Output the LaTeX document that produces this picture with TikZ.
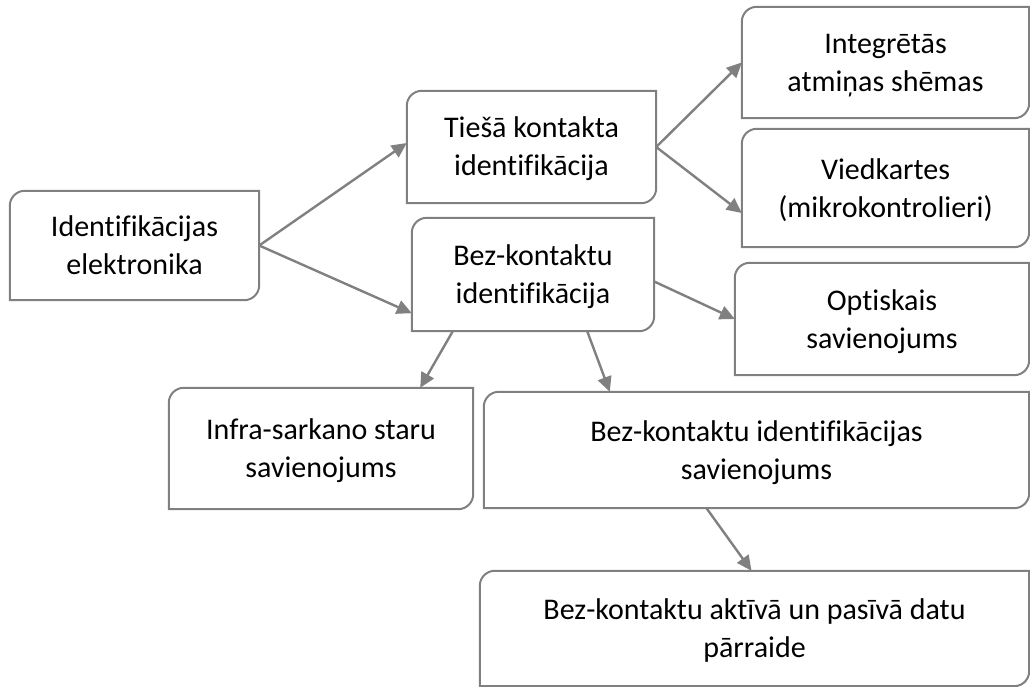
\documentclass[tikz,border=0pt]{standalone}
\usepackage{fontspec}
\setmainfont{Carlito}[Ligatures={NoCommon,NoRequired,NoContextual,TeX}]
\usetikzlibrary{arrows.meta}
\definecolor{linegray}{RGB}{128,128,128}
\newcommand\lnstrut{\rule[-7pt]{0pt}{34pt}}
\tikzset{
  boxnode/.style={draw=none, inner sep=0pt, align=center, font=\fontsize{30}{38}\selectfont},
  boxline/.style={draw=linegray, line width=2pt},
  conn/.style={draw=linegray, line width=2.4pt, -{Triangle[length=15pt,width=14pt]}, shorten >=0pt}
}
\begin{document}
\begin{tikzpicture}[x=1pt,y=-1pt]
\useasboundingbox (0,0) rectangle (1030,687);
\clip (0,0) rectangle (1030,687);
\node[boxnode, minimum width=249pt, minimum height=109pt] (a) at (134.5,245.5) {\lnstrut Identifikācijas\\\lnstrut elektronika};
\node[boxnode, minimum width=249pt, minimum height=112pt] (b) at (531.5,147) {\lnstrut Tiešā kontakta\\\lnstrut identifikācija};
\node[boxnode, minimum width=242pt, minimum height=113pt] (c) at (533,274.5) {\lnstrut Bez-kontaktu\\\lnstrut identifikācija};
\node[boxnode, minimum width=287pt, minimum height=111pt] (d) at (885.5,62.5) {\lnstrut Integrētās\\\lnstrut atmiņas shēmas};
\node[boxnode, minimum width=287pt, minimum height=118pt] (e) at (885.5,188) {\lnstrut Viedkartes\\\lnstrut (mikrokontrolieri)};
\node[boxnode, minimum width=294pt, minimum height=112pt] (f) at (882,319) {\lnstrut Optiskais\\\lnstrut savienojums};
\node[boxnode, minimum width=304pt, minimum height=121pt] (g) at (321,448.5) {\lnstrut Infra-sarkano staru\\\lnstrut savienojums};
\node[boxnode, minimum width=545pt, minimum height=116pt] (h) at (756.5,450) {\lnstrut Bez-kontaktu identifikācijas\\\lnstrut savienojums};
\node[boxnode, minimum width=549pt, minimum height=115pt] (i) at (754.5,628.5) {\lnstrut Bez-kontaktu aktīvā un pasīvā datu\\\lnstrut pārraide};
\foreach \n in {a,b,c,d,e,f,g,h,i}{
  \draw[boxline] (\n.south west) -- ([yshift=-15pt]\n.north west) arc[start angle=180,end angle=90,radius=15pt]
    -- (\n.north east) -- ([yshift=15pt]\n.south east) arc[start angle=0,end angle=-90,radius=15pt] -- cycle;
}
\draw[conn] (a.east) -- ([yshift=4pt]b.west);
\draw[conn] (a.east) -- ([yshift=18pt]c.south west);
\draw[conn] (b.east) -- (d.west);
\draw[conn] (b.east) -- ([yshift=-25pt]e.west);
\draw[conn] ([yshift=-7pt]c.east) -- (f.west);
\draw[conn] ([xshift=41pt]c.south west) -- ([xshift=-53pt]g.north east);
\draw[conn] ([xshift=-67pt]c.south east) -- ([xshift=126pt]h.north west);
\draw[conn] ([xshift=-50pt]h.south) -- ([xshift=-3pt]i.north);
\end{tikzpicture}
\end{document}
